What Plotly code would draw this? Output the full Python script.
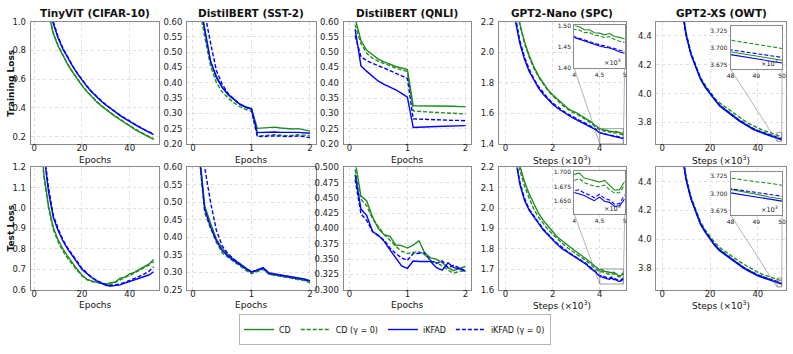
import plotly.graph_objects as go

# ---------------- data ----------------
panel_titles = ["TinyViT (CIFAR-10)", "DistilBERT (SST-2)", "DistilBERT (QNLI)",
                "GPT2-Nano (SPC)", "GPT2-XS (OWT)"]
x_titles = ["Epochs", "Epochs", "Epochs", "Steps (×10<sup>3</sup>)", "Steps (×10<sup>3</sup>)"]
row_titles = ["Training Loss", "Test Loss"]
series_names = ["CD", "CD (γ = 0)", "iKFAD", "iKFAD (γ = 0)"]

# TinyViT (CIFAR-10)
vit_epochs = [2, 4, 6, 8, 10, 12, 14, 16, 18, 20, 22, 24, 26, 28, 30, 32, 34, 36, 38, 40, 42, 44, 46, 48, 50]
vit_train_cd = [1.75, 1.33, 1.06, 0.915, 0.83, 0.762, 0.703, 0.65, 0.60, 0.555, 0.515, 0.478, 0.445, 0.415, 0.388,
                0.363, 0.34, 0.318, 0.295, 0.272, 0.253, 0.234, 0.216, 0.199, 0.182]
vit_train_cd0 = [1.76, 1.34, 1.065, 0.92, 0.834, 0.765, 0.706, 0.653, 0.603, 0.558, 0.518, 0.481, 0.448, 0.418, 0.391,
                 0.366, 0.343, 0.321, 0.298, 0.275, 0.256, 0.237, 0.219, 0.202, 0.185]
vit_train_ik = [1.90, 1.45, 1.15, 0.985, 0.885, 0.81, 0.747, 0.692, 0.64, 0.593, 0.551, 0.513, 0.479, 0.448, 0.42,
                0.394, 0.37, 0.347, 0.326, 0.305, 0.286, 0.267, 0.249, 0.231, 0.214]
vit_train_ik0 = [1.95, 1.48, 1.17, 1.0, 0.895, 0.816, 0.751, 0.695, 0.643, 0.596, 0.554, 0.516, 0.482, 0.451, 0.423,
                 0.397, 0.373, 0.35, 0.329, 0.308, 0.289, 0.27, 0.252, 0.234, 0.217]
vit_test_cd = [1.50, 1.17, 1.01, 0.905, 0.845, 0.80, 0.765, 0.73, 0.70, 0.672, 0.652, 0.643, 0.638, 0.632, 0.626,
               0.634, 0.638, 0.657, 0.662, 0.678, 0.685, 0.70, 0.712, 0.725, 0.748]
vit_test_cd0 = [1.48, 1.16, 1.00, 0.895, 0.835, 0.79, 0.755, 0.722, 0.695, 0.668, 0.65, 0.64, 0.635, 0.63, 0.628,
                0.625, 0.638, 0.648, 0.66, 0.67, 0.682, 0.695, 0.708, 0.72, 0.738]
vit_test_ik = [1.62, 1.27, 1.08, 0.955, 0.89, 0.84, 0.80, 0.768, 0.735, 0.70, 0.68, 0.66, 0.645, 0.632, 0.622,
               0.618, 0.62, 0.624, 0.632, 0.64, 0.648, 0.655, 0.663, 0.672, 0.688]
vit_test_ik0 = [1.65, 1.29, 1.10, 0.965, 0.90, 0.845, 0.805, 0.77, 0.738, 0.705, 0.683, 0.662, 0.647, 0.634, 0.624,
                0.62, 0.623, 0.628, 0.636, 0.645, 0.655, 0.665, 0.677, 0.69, 0.712]

# DistilBERT epochs
bert_epochs = [0.1, 0.2, 0.3, 0.4, 0.5, 0.6, 0.7, 0.8, 0.9, 1.0, 1.1, 1.2, 1.3, 1.4, 1.5, 1.6, 1.7, 1.8, 1.9, 2.0]
sst_train_cd = [0.68, 0.57, 0.47, 0.415, 0.385, 0.36, 0.345, 0.33, 0.322, 0.316, 0.251, 0.252, 0.254, 0.255, 0.252,
                0.25, 0.249, 0.25, 0.247, 0.242]
sst_train_cd0 = [0.66, 0.55, 0.455, 0.40, 0.37, 0.35, 0.335, 0.322, 0.313, 0.307, 0.226, 0.228, 0.23, 0.23, 0.229,
                 0.227, 0.228, 0.23, 0.229, 0.226]
sst_train_ik = [0.68, 0.575, 0.47, 0.42, 0.385, 0.362, 0.345, 0.33, 0.32, 0.315, 0.237, 0.238, 0.24, 0.239, 0.238,
                0.237, 0.238, 0.238, 0.236, 0.235]
sst_train_ik0 = [0.75, 0.63, 0.53, 0.44, 0.395, 0.365, 0.347, 0.33, 0.32, 0.313, 0.225, 0.224, 0.226, 0.227, 0.226,
                 0.224, 0.225, 0.226, 0.224, 0.22]
sst_test_cd = [0.66, 0.49, 0.44, 0.395, 0.368, 0.35, 0.337, 0.325, 0.312, 0.301, 0.305, 0.312, 0.297, 0.294, 0.292,
               0.289, 0.286, 0.283, 0.279, 0.274]
sst_test_cd0 = [0.64, 0.47, 0.425, 0.385, 0.355, 0.342, 0.33, 0.318, 0.306, 0.296, 0.302, 0.308, 0.294, 0.291, 0.289,
                0.286, 0.283, 0.28, 0.276, 0.27]
sst_test_ik = [0.65, 0.48, 0.43, 0.39, 0.362, 0.346, 0.333, 0.321, 0.31, 0.30, 0.306, 0.313, 0.298, 0.295, 0.293,
               0.291, 0.288, 0.285, 0.281, 0.276]
sst_test_ik0 = [0.80, 0.60, 0.50, 0.42, 0.375, 0.352, 0.337, 0.323, 0.311, 0.301, 0.305, 0.311, 0.296, 0.293, 0.291,
                0.289, 0.286, 0.283, 0.279, 0.273]
qnli_train_cd = [0.61, 0.538, 0.506, 0.49, 0.477, 0.468, 0.46, 0.453, 0.448, 0.443, 0.325, 0.325, 0.325, 0.324,
                 0.324, 0.324, 0.323, 0.323, 0.322, 0.322]
qnli_train_cd0 = [0.59, 0.528, 0.496, 0.48, 0.47, 0.462, 0.455, 0.448, 0.442, 0.437, 0.308, 0.306, 0.305, 0.304,
                  0.303, 0.302, 0.301, 0.300, 0.299, 0.298]
qnli_train_ik = [0.575, 0.455, 0.437, 0.42, 0.405, 0.395, 0.386, 0.377, 0.365, 0.353, 0.254, 0.254, 0.255, 0.256,
                 0.257, 0.258, 0.258, 0.259, 0.26, 0.26]
qnli_train_ik0 = [0.554, 0.485, 0.472, 0.463, 0.455, 0.448, 0.44, 0.432, 0.423, 0.414, 0.282, 0.281, 0.28, 0.28,
                  0.279, 0.278, 0.278, 0.277, 0.277, 0.276]
qnli_test_cd = [0.51, 0.453, 0.445, 0.419, 0.40, 0.39, 0.387, 0.373, 0.372, 0.368, 0.373, 0.38, 0.36, 0.352, 0.35,
                0.344, 0.336, 0.331, 0.335, 0.338]
qnli_test_cd0 = [0.496, 0.448, 0.437, 0.416, 0.403, 0.39, 0.381, 0.371, 0.363, 0.359, 0.361, 0.362, 0.357, 0.348,
                 0.344, 0.339, 0.332, 0.327, 0.33, 0.331]
qnli_test_ik = [0.488, 0.432, 0.421, 0.395, 0.389, 0.379, 0.365, 0.352, 0.339, 0.335, 0.347, 0.346, 0.346, 0.346,
                0.336, 0.332, 0.344, 0.336, 0.334, 0.33]
qnli_test_ik0 = [0.48, 0.424, 0.413, 0.395, 0.388, 0.381, 0.368, 0.359, 0.352, 0.348, 0.359, 0.359, 0.36, 0.347,
                 0.343, 0.347, 0.336, 0.34, 0.335, 0.331]

# GPT2-Nano (steps x 1e3)
nano_steps = [0.2, 0.4, 0.6, 0.8, 1.0, 1.2, 1.4, 1.6, 1.8, 2.0, 2.2, 2.4, 2.6, 2.8, 3.0, 3.2, 3.4, 3.6, 3.8, 4.0,
              4.1, 4.2, 4.3, 4.4, 4.5, 4.6, 4.7, 4.8, 4.9, 5.0]
nano_train_cd = [2.80, 2.45, 2.19, 2.07, 1.98, 1.905, 1.845, 1.797, 1.755, 1.722, 1.693, 1.662, 1.638, 1.617, 1.605,
                 1.586, 1.566, 1.548, 1.522, 1.500, 1.497, 1.490, 1.490, 1.483, 1.482, 1.478, 1.481, 1.474, 1.472, 1.468]
nano_train_cd0 = [2.75, 2.42, 2.18, 2.06, 1.97, 1.895, 1.838, 1.79, 1.748, 1.715, 1.685, 1.655, 1.632, 1.61, 1.597,
                  1.578, 1.558, 1.54, 1.515, 1.491, 1.489, 1.483, 1.484, 1.477, 1.476, 1.471, 1.474, 1.467, 1.463, 1.460]
nano_train_ik = [2.60, 2.22, 2.06, 1.955, 1.875, 1.815, 1.765, 1.725, 1.69, 1.66, 1.635, 1.613, 1.594, 1.576, 1.56,
                 1.545, 1.53, 1.515, 1.496, 1.472, 1.468, 1.463, 1.46, 1.456, 1.452, 1.449, 1.447, 1.443, 1.438, 1.435]
nano_train_ik0 = [2.62, 2.25, 2.08, 1.97, 1.89, 1.825, 1.775, 1.733, 1.698, 1.668, 1.642, 1.62, 1.6, 1.582, 1.566,
                  1.55, 1.535, 1.52, 1.50, 1.474, 1.470, 1.465, 1.462, 1.458, 1.455, 1.452, 1.45, 1.446, 1.442, 1.439]
nano_test_cd = [2.90, 2.45, 2.21, 2.13, 2.07, 2.02, 1.975, 1.94, 1.91, 1.885, 1.858, 1.84, 1.818, 1.80, 1.786, 1.77,
                1.754, 1.735, 1.715, 1.696, 1.699, 1.690, 1.688, 1.685, 1.683, 1.686, 1.678, 1.669, 1.670, 1.684]
nano_test_cd0 = [2.85, 2.42, 2.19, 2.11, 2.05, 1.995, 1.955, 1.922, 1.895, 1.872, 1.848, 1.828, 1.808, 1.79, 1.775,
                 1.76, 1.744, 1.725, 1.705, 1.686, 1.689, 1.682, 1.679, 1.676, 1.675, 1.678, 1.670, 1.664, 1.665, 1.678]
nano_test_ik = [2.70, 2.26, 2.12, 2.04, 1.99, 1.955, 1.925, 1.893, 1.868, 1.842, 1.822, 1.801, 1.787, 1.769, 1.757,
                1.741, 1.727, 1.706, 1.688, 1.665, 1.662, 1.660, 1.655, 1.651, 1.657, 1.650, 1.648, 1.641, 1.642, 1.654]
nano_test_ik0 = [2.72, 2.28, 2.13, 2.05, 1.995, 1.96, 1.93, 1.898, 1.872, 1.848, 1.826, 1.806, 1.79, 1.774, 1.76,
                 1.745, 1.73, 1.71, 1.692, 1.668, 1.670, 1.664, 1.661, 1.656, 1.662, 1.655, 1.652, 1.645, 1.646, 1.661]

# GPT2-XS (steps x 1e3)
xs_steps = [2, 4, 6, 8, 10, 12, 14, 16, 18, 20, 22, 24, 26, 28, 30, 32, 34, 36, 38, 40, 42, 44, 46, 48,
            48.5, 49, 49.5, 50]
xs_train_cd = [6.0, 5.3, 4.9, 4.62, 4.41, 4.275, 4.185, 4.105, 4.05, 4.004, 3.955, 3.92, 3.893, 3.866, 3.842, 3.817,
               3.795, 3.775, 3.757, 3.742, 3.73, 3.718, 3.706, 3.694, 3.691, 3.688, 3.685, 3.682]
xs_train_cd0 = [6.0, 5.3, 4.9, 4.63, 4.42, 4.285, 4.19, 4.11, 4.058, 4.012, 3.965, 3.935, 3.91, 3.885, 3.862, 3.838,
                3.816, 3.795, 3.776, 3.76, 3.746, 3.733, 3.722, 3.711, 3.708, 3.705, 3.702, 3.699]
xs_train_ik = [6.0, 5.3, 4.9, 4.61, 4.40, 4.27, 4.18, 4.10, 4.042, 4.0, 3.95, 3.913, 3.888, 3.86, 3.838, 3.812, 3.79,
               3.769, 3.752, 3.737, 3.726, 3.713, 3.702, 3.690, 3.687, 3.684, 3.681, 3.678]
xs_train_ik0 = [6.0, 5.3, 4.9, 4.62, 4.405, 4.275, 4.183, 4.104, 4.047, 4.003, 3.954, 3.918, 3.892, 3.865, 3.843,
                3.818, 3.796, 3.776, 3.758, 3.743, 3.731, 3.719, 3.708, 3.697, 3.694, 3.692, 3.689, 3.686]
xs_test_cd = [6.0, 5.3, 4.9, 4.63, 4.42, 4.285, 4.19, 4.11, 4.055, 4.01, 3.962, 3.928, 3.902, 3.876, 3.852, 3.828,
              3.806, 3.786, 3.768, 3.752, 3.74, 3.728, 3.717, 3.706, 3.703, 3.699, 3.695, 3.692]
xs_test_cd0 = [6.0, 5.3, 4.9, 4.64, 4.43, 4.295, 4.2, 4.12, 4.065, 4.02, 3.975, 3.943, 3.918, 3.894, 3.872, 3.849,
               3.828, 3.807, 3.788, 3.771, 3.757, 3.744, 3.733, 3.722, 3.72, 3.717, 3.715, 3.712]
xs_test_ik = [6.0, 5.3, 4.9, 4.62, 4.41, 4.28, 4.185, 4.104, 4.048, 4.004, 3.955, 3.92, 3.895, 3.87, 3.846, 3.822,
              3.8, 3.78, 3.762, 3.747, 3.735, 3.723, 3.712, 3.701, 3.698, 3.695, 3.692, 3.689]
xs_test_ik0 = [6.0, 5.3, 4.9, 4.625, 4.415, 4.283, 4.188, 4.108, 4.052, 4.008, 3.96, 3.925, 3.9, 3.875, 3.852, 3.828,
               3.806, 3.786, 3.768, 3.753, 3.741, 3.729, 3.718, 3.707, 3.704, 3.701, 3.699, 3.696]

# axis tick values
vit_xticks = [0, 20, 40]
bert_xticks = [0, 1, 2]
nano_xticks = [0, 2, 4]
xs_xticks = [0, 20, 40]
nano_inset_xticks = [4, 4.5, 5]
xs_inset_xticks = [48, 49, 50]

# ---------------- layout geometry ----------------
W, H = 793, 354
cols_px = [(27, 157), (185, 315), (343, 472), (500, 628), (659, 790)]
rows_px = [(17, 143), (167, 293)]
GREEN = "#1e8c1e"
BLUE = "#0000ff"
styles = [(GREEN, "solid"), (GREEN, "4px,2px"), (BLUE, "solid"), (BLUE, "4px,2px")]
FONT = "DejaVu Sans"

panels = {
    (0, 0): (vit_epochs, [vit_train_cd, vit_train_cd0, vit_train_ik, vit_train_ik0]),
    (0, 1): (bert_epochs, [sst_train_cd, sst_train_cd0, sst_train_ik, sst_train_ik0]),
    (0, 2): (bert_epochs, [qnli_train_cd, qnli_train_cd0, qnli_train_ik, qnli_train_ik0]),
    (0, 3): (nano_steps, [nano_train_cd, nano_train_cd0, nano_train_ik, nano_train_ik0]),
    (0, 4): (xs_steps, [xs_train_cd, xs_train_cd0, xs_train_ik, xs_train_ik0]),
    (1, 0): (vit_epochs, [vit_test_cd, vit_test_cd0, vit_test_ik, vit_test_ik0]),
    (1, 1): (bert_epochs, [sst_test_cd, sst_test_cd0, sst_test_ik, sst_test_ik0]),
    (1, 2): (bert_epochs, [qnli_test_cd, qnli_test_cd0, qnli_test_ik, qnli_test_ik0]),
    (1, 3): (nano_steps, [nano_test_cd, nano_test_cd0, nano_test_ik, nano_test_ik0]),
    (1, 4): (xs_steps, [xs_test_cd, xs_test_cd0, xs_test_ik, xs_test_ik0]),
}
xranges = [[-1.45, 52.45], [-0.1, 2.1], [-0.1, 2.1], [-0.28, 5.1], [-2.5, 51.8]]
xticks = [vit_xticks, bert_xticks, bert_xticks, nano_xticks, xs_xticks]
yspec = {
    (0, 0): ([0.15, 1.0], 0.2, 0.2, ".1f"),
    (0, 1): ([0.2, 0.6], 0.2, 0.05, ".2f"),
    (0, 2): ([0.2, 0.6], 0.2, 0.05, ".2f"),
    (0, 3): ([1.4, 2.2], 1.4, 0.2, ".1f"),
    (0, 4): ([3.65, 4.5], 3.8, 0.2, ".1f"),
    (1, 0): ([0.6, 1.2], 0.6, 0.1, ".1f"),
    (1, 1): ([0.25, 0.6], 0.25, 0.05, ".2f"),
    (1, 2): ([0.3, 0.5], 0.3, 0.025, ".3f"),
    (1, 3): ([1.6, 2.2], 1.6, 0.1, ".1f"),
    (1, 4): ([3.65, 4.5], 3.8, 0.2, ".1f"),
}
# insets: (row, col) -> pixel box, x range, y range, y ticks, y format, x ticks
insets = {
    (0, 3): ((576, 627, 21, 65), [4, 5], [1.40, 1.50], [1.40, 1.45, 1.50], ".2f", nano_inset_xticks),
    (0, 4): ((734, 786, 22, 66), [48, 50], [3.669, 3.731], [3.675, 3.700, 3.725], ".3f", xs_inset_xticks),
    (1, 3): ((576, 627, 171, 215), [4, 5], [1.628, 1.702], [1.650, 1.675, 1.700], ".3f", nano_inset_xticks),
    (1, 4): ((734, 786, 172, 216), [48, 50], [3.669, 3.731], [3.675, 3.700, 3.725], ".3f", xs_inset_xticks),
}


def px_x(p):
    return p / W


def px_y(p):
    return 1 - p / H


fig = go.Figure()
layout = dict(width=W, height=H, margin=dict(l=0, r=0, t=0, b=0),
              paper_bgcolor="white", plot_bgcolor="white",
              font=dict(family=FONT, color="#111"))
annotations = []
shapes = []

main_axis_style = dict(showgrid=True, gridcolor="#dedede", griddash="dot", gridwidth=1,
                       showline=True, mirror=True, linecolor="#8a8a8a", linewidth=1,
                       ticks="", zeroline=False,
                       tickfont=dict(size=8.5, family=FONT, color="#222"))
inset_axis_style = dict(showgrid=False, showline=True, mirror=True, linecolor="#8a8a8a",
                        linewidth=1, ticks="", zeroline=False, ticklabelstandoff=1,
                        tickfont=dict(size=6, family=FONT, color="#222"))

k = 0
for r in range(2):
    for c in range(5):
        k += 1
        xs, series = panels[(r, c)]
        x0, x1 = cols_px[c]
        y0, y1 = rows_px[r]
        yr, y_t0, y_dt, y_fmt = yspec[(r, c)]
        layout[f"xaxis{k}"] = dict(main_axis_style, domain=[px_x(x0), px_x(x1)], range=xranges[c],
                                   anchor=f"y{k}", tickvals=xticks[c], ticklabelstandoff=-4)
        layout[f"yaxis{k}"] = dict(main_axis_style, domain=[px_y(y1), px_y(y0)], range=yr,
                                   anchor=f"x{k}", tick0=y_t0, dtick=y_dt, tickformat=y_fmt,
                                   ticklabelstandoff=2)
        for i, ys in enumerate(series):
            col, dash = styles[i]
            fig.add_trace(go.Scatter(x=xs, y=ys, mode="lines", name=series_names[i],
                                     line=dict(color=col, dash=dash, width=1.4),
                                     xaxis=f"x{k}", yaxis=f"y{k}",
                                     showlegend=(k == 1), legendgroup=series_names[i]))
        # titles
        if r == 0:
            annotations.append(dict(text=f"<b>{panel_titles[c]}</b>", x=px_x((x0 + x1) / 2), y=px_y(8),
                                    xref="paper", yref="paper", showarrow=False,
                                    font=dict(size=10.5, family=FONT, color="#111"),
                                    xanchor="center", yanchor="middle"))
        annotations.append(dict(text=x_titles[c], x=px_x((x0 + x1) / 2), y=px_y(y1 + 16),
                                xref="paper", yref="paper", showarrow=False,
                                font=dict(size=9, family=FONT, color="#111"),
                                xanchor="center", yanchor="middle"))

for r in range(2):
    y0, y1 = rows_px[r]
    annotations.append(dict(text=f"<b>{row_titles[r]}</b>", x=px_x(7), y=px_y((y0 + y1) / 2),
                            xref="paper", yref="paper", showarrow=False, textangle=-90,
                            font=dict(size=9, family=FONT, color="#111"),
                            xanchor="center", yanchor="middle"))

# insets
for (r, c), (box, ixr, iyr, iyt, iyf, ixt) in insets.items():
    k += 1
    main_k = r * 5 + c + 1
    bx0, bx1, by0, by1 = box
    xs, series = panels[(r, c)]
    layout[f"xaxis{k}"] = dict(inset_axis_style, domain=[px_x(bx0), px_x(bx1)], range=ixr,
                               anchor=f"y{k}", tickvals=ixt, ticktext=[f"{v:g}" for v in ixt])
    layout[f"yaxis{k}"] = dict(inset_axis_style, domain=[px_y(by1), px_y(by0)], range=iyr,
                               anchor=f"x{k}", tickvals=iyt, tickformat=iyf)
    for i, ys in enumerate(series):
        col, dash = styles[i]
        fig.add_trace(go.Scatter(x=xs, y=ys, mode="lines", name=series_names[i],
                                 line=dict(color=col, dash=dash, width=1.1),
                                 xaxis=f"x{k}", yaxis=f"y{k}", showlegend=False,
                                 legendgroup=series_names[i]))
    # zoom rectangle on main axes
    shapes.append(dict(type="rect", xref=f"x{main_k}", yref=f"y{main_k}",
                       x0=ixr[0], x1=ixr[1], y0=iyr[0], y1=iyr[1],
                       line=dict(color="rgba(120,120,120,0.8)", width=0.9)))
    # connectors: lower-left and lower-right corners
    mx0, mx1 = cols_px[c]
    my0, my1 = rows_px[r]
    mxr = xranges[c]
    myr = yspec[(r, c)][0]

    def mpx(v):
        return mx0 + (v - mxr[0]) / (mxr[1] - mxr[0]) * (mx1 - mx0)

    def mpy(v):
        return my1 - (v - myr[0]) / (myr[1] - myr[0]) * (my1 - my0)

    for xv, bxv in ((ixr[0], bx0), (ixr[1], bx1)):
        shapes.append(dict(type="line", xref="paper", yref="paper",
                           x0=px_x(bxv), y0=px_y(by1), x1=px_x(mpx(xv)), y1=px_y(mpy(iyr[0])),
                           line=dict(color="rgba(120,120,120,0.7)", width=0.8)))
    annotations.append(dict(text="×10<sup>3</sup>", x=px_x(bx1 - 2), y=px_y(by1 - 6),
                            xref="paper", yref="paper", showarrow=False,
                            font=dict(size=6.5, family=FONT, color="#222"),
                            xanchor="right", yanchor="middle"))

layout["annotations"] = annotations
layout["shapes"] = shapes
layout["legend"] = dict(orientation="h", x=px_x(395), xanchor="center", y=px_y(318), yanchor="top",
                        bordercolor="#b5b5b5", borderwidth=1, bgcolor="white",
                        font=dict(size=8, family=FONT, color="#111"),
                        itemwidth=30, tracegroupgap=0)
fig.update_layout(**layout)
fig.write_html("out.html", config={"displayModeBar": False},
               post_script="document.body.style.margin='0px';")
